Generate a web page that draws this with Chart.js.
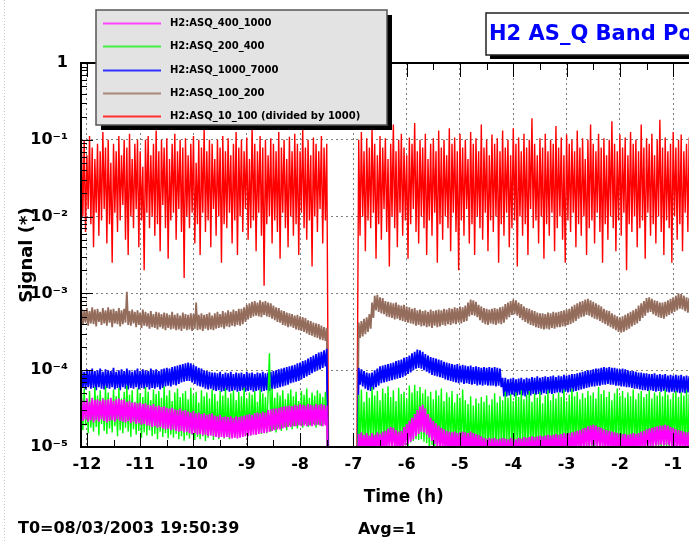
<!DOCTYPE html>
<html>
<head>
<meta charset="utf-8">
<title>H2 AS_Q Band Power</title>
<script src="https://cdn.jsdelivr.net/npm/chart.js@4.4.0/dist/chart.umd.min.js"></script>
<style>
  html, body { margin: 0; padding: 0; background: #fff; overflow: hidden; }
  #wrap { width: 689px; height: 541px; overflow: hidden; position: relative; }
  canvas { display: block; }
</style>
</head>
<body>
<div id="wrap"><canvas id="bandPower" width="740" height="541"></canvas></div>
<script>
// Time grid (hours before T0): two lock stretches with a dropout between them
const stepH = 0.025;
const startA = -12.1;   // first stretch starts here
const dropA = -7.45;    // lock lost
const dropB = -6.95;    // lock regained
const startB = -6.9;    // second stretch starts here
const floorVal = 1e-7;  // signal while unlocked (below the axis)

const xTicks = [-12, -11, -10, -9, -8, -7, -6, -5, -4, -3, -2, -1];
const xTickLabels = ["-12", "-11", "-10", "-9", "-8", "-7", "-6", "-5", "-4", "-3", "-2", "-1"];
const yTicks = [1e-5, 1e-4, 1e-3, 1e-2, 1e-1, 1];
const yTickLabels = ["10\u207B\u2075", "10\u207B\u2074", "10\u207B\u00B3", "10\u207B\u00B2", "10\u207B\u00B9", "1"];

const seriesLabels = [
  "H2:ASQ_400_1000",
  "H2:ASQ_200_400",
  "H2:ASQ_1000_7000",
  "H2:ASQ_100_200",
  "H2:ASQ_10_100 (divided by 1000)",
];

// log10 of the band signal, one value per stepH

const asq400A = [
  -4.38,-4.66,-4.4,-4.64,-4.37,-4.67,-4.41,-4.65,-4.36,-4.68,
  -4.39,-4.65,-4.38,-4.67,-4.4,-4.64,-4.37,-4.66,-4.39,-4.68,
  -4.38,-4.66,-4.36,-4.65,-4.4,-4.67,-4.38,-4.64,-4.37,-4.66,
  -4.39,-4.67,-4.38,-4.68,-4.41,-4.66,-4.4,-4.69,-4.42,-4.67,
  -4.42,-4.7,-4.43,-4.69,-4.42,-4.71,-4.44,-4.7,-4.43,-4.72,
  -4.45,-4.72,-4.46,-4.74,-4.44,-4.73,-4.47,-4.75,-4.46,-4.74,
  -4.48,-4.76,-4.47,-4.77,-4.49,-4.76,-4.5,-4.78,-4.49,-4.77,
  -4.51,-4.79,-4.52,-4.8,-4.5,-4.79,-4.53,-4.81,-4.52,-4.8,
  -4.54,-4.82,-4.55,-4.83,-4.53,-4.82,-4.56,-4.84,-4.55,-4.83,
  -4.57,-4.85,-4.56,-4.84,-4.58,-4.86,-4.57,-4.85,-4.56,-4.86,
  -4.59,-4.87,-4.6,-4.88,-4.58,-4.87,-4.61,-4.88,-4.6,-4.87,
  -4.61,-4.88,-4.6,-4.89,-4.62,-4.88,-4.6,-4.89,-4.61,-4.88,
  -4.6,-4.87,-4.59,-4.86,-4.58,-4.86,-4.57,-4.85,-4.58,-4.84,
  -4.56,-4.84,-4.55,-4.83,-4.56,-4.82,-4.54,-4.82,-4.55,-4.81,
  -4.52,-4.8,-4.51,-4.79,-4.5,-4.78,-4.5,-4.77,-4.49,-4.77,
  -4.48,-4.76,-4.47,-4.75,-4.47,-4.74,-4.46,-4.74,-4.47,-4.73,
  -4.45,-4.73,-4.46,-4.72,-4.44,-4.73,-4.45,-4.72,-4.46,-4.73,
  -4.44,-4.72,-4.45,-4.73,-4.46,-4.72,-4.44,-4.71,-4.45,-4.72,
  -4.44,-4.73,-4.45,-4.72,-4.46,
];
const asq400B = [
  -4.83,-5.04,-4.81,-5.06,-4.84,-5.03,-4.82,-5.05,-4.85,-5.04,
  -4.82,-5.06,-4.84,-5.03,-4.81,-5.05,-4.83,-5.04,-4.8,-5.06,
  -4.79,-5.02,-4.76,-5.0,-4.74,-4.99,-4.75,-5.01,-4.78,-5.03,
  -4.8,-5.04,-4.79,-5.02,-4.74,-4.98,-4.7,-4.96,-4.66,-4.93,
  -4.62,-4.9,-4.57,-4.86,-4.52,-4.83,-4.47,-4.8,-4.45,-4.81,
  -4.5,-4.84,-4.57,-4.88,-4.62,-4.92,-4.66,-4.96,-4.69,-4.99,
  -4.72,-5.01,-4.75,-5.03,-4.77,-5.04,-4.79,-5.05,-4.8,-5.06,
  -4.81,-5.05,-4.8,-5.06,-4.82,-5.04,-4.81,-5.06,-4.8,-5.05,
  -4.81,-5.06,-4.82,-5.05,-4.8,-5.07,-4.82,-5.06,-4.83,-5.08,
  -4.84,-5.07,-4.86,-5.09,-4.88,-5.1,-4.89,-5.1,-4.88,-5.11,
  -4.89,-5.1,-4.88,-5.11,-4.9,-5.1,-4.89,-5.12,-4.88,-5.1,
  -4.89,-5.11,-4.9,-5.1,-4.88,-5.12,-4.89,-5.1,-4.9,-5.11,
  -4.88,-5.1,-4.89,-5.11,-4.87,-5.1,-4.88,-5.09,-4.87,-5.1,
  -4.86,-5.09,-4.87,-5.1,-4.86,-5.08,-4.85,-5.09,-4.86,-5.08,
  -4.85,-5.08,-4.84,-5.07,-4.85,-5.08,-4.84,-5.06,-4.83,-5.07,
  -4.84,-5.06,-4.83,-5.07,-4.82,-5.06,-4.83,-5.05,-4.82,-5.06,
  -4.81,-5.05,-4.8,-5.04,-4.79,-5.03,-4.78,-5.03,-4.76,-5.01,
  -4.75,-5.0,-4.73,-4.99,-4.72,-4.98,-4.71,-4.98,-4.72,-4.99,
  -4.74,-5.0,-4.75,-5.01,-4.77,-5.02,-4.78,-5.03,-4.79,-5.04,
  -4.8,-5.04,-4.81,-5.05,-4.82,-5.05,-4.83,-5.06,-4.83,-5.05,
  -4.83,-5.06,-4.84,-5.05,-4.83,-5.06,-4.82,-5.05,-4.83,-5.04,
  -4.82,-5.04,-4.8,-5.03,-4.79,-5.02,-4.77,-5.01,-4.76,-5.0,
  -4.75,-4.99,-4.74,-4.98,-4.73,-4.98,-4.72,-4.97,-4.72,-4.98,
  -4.71,-4.97,-4.72,-4.98,-4.74,-4.99,-4.75,-5.0,-4.77,-5.01,
  -4.78,-5.02,-4.79,-5.03,-4.8,-5.03,-4.81,-5.04,-4.8,
];

const asq200A = [
  -4.3,-4.78,-4.24,-4.72,-4.38,-4.82,-4.27,-4.75,-4.42,-4.8,
  -4.22,-4.74,-4.33,-4.85,-4.26,-4.7,-4.36,-4.79,-4.21,-4.83,
  -4.29,-4.76,-4.4,-4.81,-4.25,-4.73,-4.34,-4.86,-4.23,-4.78,
  -4.37,-4.82,-4.28,-4.75,-4.2,-4.8,-4.32,-4.87,-4.26,-4.77,
  -4.41,-4.84,-4.24,-4.79,-4.3,-4.88,-4.35,-4.81,-4.22,-4.85,
  -4.28,-4.78,-4.39,-4.86,-4.25,-4.83,-4.31,-4.9,-4.27,-4.8,
  -4.36,-4.87,-4.21,-4.82,-4.33,-4.89,-4.26,-4.84,-4.4,-4.88,
  -4.29,-4.83,-4.24,-4.9,-4.35,-4.86,-4.3,-4.92,-4.27,-4.85,
  -4.38,-4.89,-4.23,-4.84,-4.32,-4.91,-4.28,-4.87,-4.42,-4.9,
  -4.26,-4.86,-4.34,-4.92,-4.29,-4.88,-4.37,-4.85,-4.25,-4.91,
  -4.31,-4.87,-4.4,-4.9,-4.27,-4.84,-4.33,-4.89,-4.24,-4.86,
  -4.36,-4.9,-4.3,-4.85,-4.26,-4.88,-4.39,-4.83,-4.28,-4.87,
  -4.34,-4.82,-4.23,-4.86,-4.37,-4.81,-4.29,-4.85,-4.32,-4.8,
  -4.27,-4.84,-4.41,-4.79,-4.25,-4.83,-4.3,-4.78,-4.35,-4.82,
  -4.28,-3.78,-4.8,-4.24,-4.77,-4.36,-4.81,-4.29,-4.75,-4.33,
  -4.79,-4.26,-4.74,-4.38,-4.78,-4.3,-4.72,-4.25,-4.77,-4.34,
  -4.73,-4.28,-4.76,-4.4,-4.71,-4.27,-4.75,-4.32,-4.7,-4.24,
  -4.74,-4.36,-4.72,-4.29,-4.7,-4.33,-4.75,-4.26,-4.71,-4.3,
  -4.73,-4.35,-4.7,-4.28,-4.72,
];
const asq200B = [
  -4.32,-5.04,-4.25,-4.96,-4.41,-5.07,-4.28,-4.98,-4.36,-5.05,
  -4.22,-4.97,-4.33,-5.06,-4.27,-4.99,-4.39,-5.04,-4.24,-4.95,
  -4.3,-5.08,-4.21,-4.97,-4.35,-5.03,-4.26,-4.99,-4.4,-5.06,
  -4.23,-4.96,-4.31,-5.05,-4.28,-4.98,-4.37,-5.07,-4.2,-4.94,
  -4.29,-4.92,-4.19,-4.9,-4.27,-4.91,-4.22,-4.9,-4.3,-4.93,
  -4.25,-4.95,-4.34,-5.04,-4.28,-4.97,-4.38,-5.06,-4.26,-4.98,
  -4.33,-5.05,-4.24,-4.96,-4.4,-5.08,-4.29,-4.99,-4.35,-5.04,
  -4.27,-4.97,-4.42,-5.07,-4.31,-5.0,-4.36,-5.06,-4.25,-4.98,
  -4.39,-5.09,-4.44,-5.05,-4.34,-5.1,-4.46,-5.03,-4.37,-5.08,
  -4.43,-5.04,-4.35,-5.1,-4.41,-5.02,-4.33,-5.07,-4.45,-5.05,
  -4.38,-5.09,-4.3,-5.01,-4.42,-5.06,-4.34,-5.0,-4.39,-5.08,
  -4.28,-5.03,-4.36,-5.07,-4.31,-4.99,-4.4,-5.05,-4.29,-5.02,
  -4.35,-5.08,-4.26,-5.0,-4.38,-5.06,-4.32,-5.01,-4.27,-5.07,
  -4.41,-5.03,-4.3,-5.09,-4.36,-5.0,-4.28,-5.05,-4.43,-5.02,
  -4.33,-5.07,-4.26,-5.01,-4.39,-5.08,-4.31,-5.0,-4.37,-5.06,
  -4.29,-5.02,-4.35,-5.07,-4.25,-4.99,-4.4,-5.05,-4.32,-5.03,
  -4.24,-5.06,-4.34,-5.0,-4.28,-5.04,-4.38,-5.01,-4.3,-5.08,
  -4.36,-5.02,-4.27,-5.06,-4.33,-4.99,-4.29,-5.05,-4.37,-5.01,
  -4.22,-5.07,-4.31,-5.0,-4.26,-5.04,-4.35,-5.02,-4.28,-5.06,
  -4.39,-5.01,-4.3,-5.05,-4.24,-4.99,-4.33,-5.07,-4.27,-5.02,
  -4.36,-5.04,-4.29,-5.0,-4.34,-5.06,-4.25,-5.01,-4.38,-5.05,
  -4.3,-5.03,-4.27,-5.07,-4.35,-5.0,-4.31,-5.04,-4.26,-5.06,
  -4.37,-5.01,-4.29,-5.05,-4.33,-5.02,-4.28,-5.07,-4.34,-5.0,
  -4.25,-5.04,-4.32,-5.06,-4.38,-5.01,-4.3,-5.05,-4.27,-5.03,
  -4.35,-5.06,-4.29,-5.0,-4.33,-5.04,-4.26,-5.07,-4.31,
];

const asq1000A = [
  -4.0,-4.23,-4.02,-4.25,-3.99,-4.22,-4.01,-4.24,-3.98,-4.23,
  -4.01,-4.26,-4.0,-4.22,-3.98,-4.24,-4.02,-4.25,-3.99,-4.23,
  -4.0,-4.24,-4.01,-4.22,-3.97,-4.25,-4.02,-4.23,-4.0,-4.26,
  -3.99,-4.22,-4.01,-4.24,-3.98,-4.25,-4.0,-4.23,-4.02,-4.24,
  -4.0,-4.22,-3.98,-4.25,-4.01,-4.23,-3.99,-4.24,-4.0,-4.22,
  -4.01,-4.25,-3.98,-4.23,-4.0,-4.24,-3.99,-4.22,-4.01,-4.25,
  -3.99,-4.23,-3.98,-4.21,-3.97,-4.2,-3.98,-4.21,-3.96,-4.19,
  -3.95,-4.2,-3.94,-4.18,-3.93,-4.16,-3.92,-4.15,-3.91,-4.14,
  -3.9,-4.14,-3.91,-4.16,-3.93,-4.18,-3.95,-4.2,-3.97,-4.21,
  -3.98,-4.22,-4.0,-4.24,-4.01,-4.25,-4.02,-4.24,-4.03,-4.26,
  -4.03,-4.27,-4.04,-4.26,-4.02,-4.28,-4.05,-4.27,-4.03,-4.26,
  -4.04,-4.28,-4.02,-4.27,-4.05,-4.26,-4.03,-4.28,-4.04,-4.27,
  -4.03,-4.26,-4.05,-4.28,-4.02,-4.27,-4.04,-4.26,-4.03,-4.28,
  -4.05,-4.27,-4.03,-4.26,-4.04,-4.28,-4.02,-4.27,-4.04,-4.26,
  -4.03,-4.27,-4.02,-4.25,-4.01,-4.24,-4.0,-4.23,-3.99,-4.22,
  -3.98,-4.21,-3.97,-4.2,-3.96,-4.19,-3.95,-4.17,-3.94,-4.16,
  -3.93,-4.15,-3.91,-4.14,-3.9,-4.12,-3.88,-4.1,-3.87,-4.08,
  -3.85,-4.06,-3.83,-4.04,-3.81,-4.02,-3.79,-4.0,-3.77,-3.99,
  -3.76,-3.97,-3.74,-3.95,-3.72,
];
const asq1000B = [
  -3.97,-4.19,-3.99,-4.21,-4.01,-4.24,-4.03,-4.26,-4.04,-4.27,
  -4.03,-4.25,-4.0,-4.22,-3.98,-4.2,-3.95,-4.17,-3.94,-4.16,
  -3.93,-4.15,-3.92,-4.14,-3.91,-4.13,-3.9,-4.12,-3.88,-4.11,
  -3.87,-4.1,-3.86,-4.09,-3.84,-4.07,-3.83,-4.05,-3.81,-4.03,
  -3.78,-4.0,-3.76,-3.98,-3.73,-3.97,-3.74,-3.98,-3.76,-4.0,
  -3.79,-4.02,-3.81,-4.04,-3.83,-4.06,-3.84,-4.07,-3.85,-4.08,
  -3.86,-4.09,-3.87,-4.1,-3.89,-4.12,-3.9,-4.13,-3.91,-4.14,
  -3.92,-4.15,-3.93,-4.16,-3.92,-4.17,-3.94,-4.16,-3.93,-4.18,
  -3.94,-4.17,-3.95,-4.18,-3.94,-4.19,-3.96,-4.18,-3.95,-4.2,
  -3.96,-4.19,-3.97,-4.2,-3.96,-4.19,-3.97,-4.2,-3.96,-4.2,
  -3.97,-4.2,-3.96,-4.21,-3.97,-4.2,-3.98,-4.22,-4.1,-4.34,
  -4.1,-4.34,-4.12,-4.33,-4.11,-4.32,-4.1,-4.34,-4.12,-4.33,
  -4.11,-4.32,-4.1,-4.33,-4.12,-4.34,-4.1,-4.32,-4.11,-4.33,
  -4.09,-4.31,-4.1,-4.32,-4.08,-4.31,-4.1,-4.32,-4.09,-4.3,
  -4.08,-4.31,-4.09,-4.3,-4.08,-4.31,-4.07,-4.3,-4.09,-4.29,
  -4.07,-4.29,-4.08,-4.3,-4.06,-4.28,-4.07,-4.29,-4.06,-4.28,
  -4.05,-4.28,-4.05,-4.27,-4.04,-4.26,-4.03,-4.25,-4.02,-4.24,
  -4.01,-4.23,-4.0,-4.22,-4.0,-4.21,-3.99,-4.21,-3.98,-4.2,
  -3.98,-4.2,-3.97,-4.19,-3.96,-4.19,-3.97,-4.18,-3.96,-4.19,
  -3.97,-4.19,-3.97,-4.2,-3.98,-4.2,-3.99,-4.21,-3.98,-4.21,
  -3.99,-4.22,-4.0,-4.22,-4.01,-4.23,-4.01,-4.24,-4.02,-4.24,
  -4.03,-4.25,-4.03,-4.26,-4.04,-4.26,-4.04,-4.27,-4.05,-4.26,
  -4.05,-4.27,-4.04,-4.28,-4.06,-4.27,-4.05,-4.28,-4.06,-4.27,
  -4.05,-4.28,-4.07,-4.29,-4.06,-4.28,-4.07,-4.29,-4.06,-4.29,
  -4.07,-4.3,-4.06,-4.29,-4.08,-4.3,-4.07,-4.29,-4.08,
];

const asq100A = [
  -3.2,-3.41,-3.22,-3.38,-3.19,-3.42,-3.23,-3.39,-3.18,-3.4,
  -3.21,-3.43,-3.2,-3.37,-3.24,-3.41,-3.19,-3.39,-3.22,-3.42,
  -3.18,-3.38,-3.21,-3.44,-3.2,-3.39,-3.23,-3.4,-3.19,-3.43,
  -3.22,-3.4,-3.2,-3.38,-2.98,-3.41,-3.23,-3.42,-3.21,-3.39,
  -3.24,-3.44,-3.22,-3.41,-3.25,-3.45,-3.21,-3.42,-3.24,-3.43,
  -3.26,-3.46,-3.23,-3.44,-3.27,-3.45,-3.24,-3.47,-3.25,-3.44,
  -3.27,-3.46,-3.25,-3.48,-3.26,-3.45,-3.28,-3.47,-3.24,-3.46,
  -3.28,-3.48,-3.26,-3.47,-3.29,-3.49,-3.25,-3.46,-3.27,-3.48,
  -3.28,-3.47,-3.26,-3.49,-3.27,-3.46,-3.12,-3.48,-3.28,-3.47,
  -3.26,-3.49,-3.28,-3.46,-3.27,-3.48,-3.25,-3.47,-3.29,-3.48,
  -3.26,-3.46,-3.24,-3.45,-3.27,-3.44,-3.23,-3.46,-3.25,-3.43,
  -3.22,-3.44,-3.24,-3.42,-3.21,-3.43,-3.23,-3.41,-3.2,-3.42,
  -3.2,-3.4,-3.18,-3.37,-3.15,-3.34,-3.13,-3.32,-3.11,-3.3,
  -3.1,-3.29,-3.12,-3.3,-3.09,-3.31,-3.11,-3.28,-3.1,-3.3,
  -3.12,-3.31,-3.13,-3.33,-3.16,-3.35,-3.18,-3.37,-3.19,-3.38,
  -3.22,-3.41,-3.23,-3.42,-3.25,-3.44,-3.26,-3.43,-3.27,-3.45,
  -3.29,-3.47,-3.28,-3.48,-3.3,-3.49,-3.31,-3.5,-3.32,-3.52,
  -3.35,-3.54,-3.36,-3.55,-3.38,-3.57,-3.39,-3.58,-3.4,-3.6,
  -3.42,-3.61,-3.44,-3.62,-3.45,
];
const asq100B = [
  -3.38,-3.58,-3.36,-3.56,-3.33,-3.53,-3.31,-3.5,-3.27,-3.46,
  -3.12,-3.32,-3.03,-3.22,-3.02,-3.24,-3.05,-3.26,-3.06,-3.27,
  -3.1,-3.3,-3.11,-3.31,-3.12,-3.32,-3.13,-3.34,-3.12,-3.33,
  -3.15,-3.35,-3.16,-3.36,-3.15,-3.37,-3.17,-3.38,-3.18,-3.39,
  -3.2,-3.4,-3.19,-3.42,-3.22,-3.41,-3.21,-3.43,-3.23,-3.42,
  -3.22,-3.44,-3.24,-3.43,-3.21,-3.45,-3.23,-3.42,-3.22,-3.44,
  -3.21,-3.43,-3.22,-3.41,-3.2,-3.42,-3.21,-3.4,-3.19,-3.41,
  -3.2,-3.39,-3.18,-3.4,-3.19,-3.38,-3.17,-3.39,-3.18,-3.37,
  -3.16,-3.36,-3.12,-3.3,-3.08,-3.28,-3.09,-3.29,-3.11,-3.31,
  -3.15,-3.35,-3.17,-3.38,-3.19,-3.4,-3.2,-3.41,-3.21,-3.39,
  -3.2,-3.4,-3.19,-3.41,-3.2,-3.39,-3.18,-3.4,-3.17,-3.38,
  -3.14,-3.34,-3.12,-3.31,-3.1,-3.28,-3.08,-3.27,-3.09,-3.29,
  -3.12,-3.32,-3.14,-3.35,-3.17,-3.37,-3.19,-3.39,-3.2,-3.41,
  -3.22,-3.42,-3.23,-3.44,-3.25,-3.45,-3.26,-3.46,-3.26,-3.47,
  -3.27,-3.46,-3.25,-3.47,-3.26,-3.45,-3.24,-3.46,-3.25,-3.44,
  -3.24,-3.44,-3.23,-3.43,-3.22,-3.43,-3.21,-3.41,-3.2,-3.4,
  -3.17,-3.38,-3.15,-3.36,-3.13,-3.33,-3.11,-3.31,-3.1,-3.3,
  -3.08,-3.28,-3.07,-3.29,-3.09,-3.31,-3.11,-3.33,-3.13,-3.34,
  -3.15,-3.36,-3.17,-3.38,-3.2,-3.4,-3.22,-3.42,-3.23,-3.44,
  -3.26,-3.46,-3.28,-3.48,-3.3,-3.5,-3.31,-3.51,-3.3,-3.5,
  -3.28,-3.48,-3.26,-3.46,-3.24,-3.43,-3.22,-3.41,-3.2,-3.39,
  -3.16,-3.36,-3.13,-3.32,-3.1,-3.29,-3.06,-3.25,-3.05,-3.24,
  -3.07,-3.27,-3.09,-3.29,-3.1,-3.31,-3.12,-3.32,-3.12,-3.33,
  -3.11,-3.3,-3.09,-3.28,-3.07,-3.26,-3.05,-3.24,-3.03,-3.22,
  -3.0,-3.2,-3.01,-3.21,-3.03,-3.23,-3.05,-3.25,-3.06,
];

const asq10A = [
  -1.1,-2.0,-1.0,-2.2,-1.2,-1.9,-0.95,-2.1,-1.1,-2.4,
  -1.25,-1.95,-1.05,-2.25,-1.15,-2.05,-0.9,-1.9,-1.1,-2.35,
  -1.0,-2.1,-1.3,-2.6,-1.05,-1.95,-1.15,-2.2,-0.95,-2.05,
  -1.2,-1.85,-1.0,-2.3,-1.1,-2.5,-0.92,-2.0,-1.25,-2.15,
  -1.05,-1.9,-1.0,-2.4,-1.15,-2.05,-1.35,-2.7,-1.0,-1.95,
  -0.95,-2.15,-1.2,-2.0,-1.05,-2.25,-0.88,-2.1,-1.15,-2.45,
  -1.0,-1.85,-1.1,-2.15,-0.98,-2.55,-1.25,-2.05,-1.05,-1.95,
  -0.92,-2.3,-1.15,-1.9,-1.0,-2.2,-1.1,-2.8,-0.98,-2.0,
  -1.2,-2.15,-1.05,-1.95,-0.95,-2.35,-1.3,-2.1,-1.0,-2.5,
  -1.1,-1.95,-0.85,-2.2,-1.15,-2.05,-1.0,-2.4,-1.05,-1.9,
  -1.25,-2.25,-1.0,-2.0,-1.1,-2.6,-0.95,-2.1,-1.15,-2.15,
  -0.98,-1.95,-1.2,-2.35,-1.05,-2.05,-0.9,-2.5,-1.1,-2.0,
  -1.0,-2.2,-1.15,-1.9,-0.97,-2.3,-1.25,-2.15,-0.82,-2.05,
  -1.05,-2.45,-1.15,-1.95,-0.95,-2.25,-1.1,-2.9,-1.0,-2.1,
  -1.2,-2.0,-0.98,-2.35,-1.05,-2.05,-1.15,-2.2,-0.9,-2.55,
  -1.1,-1.95,-1.0,-2.15,-1.25,-2.4,-0.96,-2.0,-1.15,-2.25,
  -0.92,-2.1,-1.05,-2.5,-1.15,-1.95,-0.86,-2.15,-1.1,-2.3,
  -1.0,-2.05,-1.2,-2.65,-0.97,-2.0,-1.05,-2.2,-1.15,-1.9,
  -0.95,-2.35,-1.1,-2.05,-1.05,
];
const asq10B = [
  -1.0,-2.25,-0.9,-2.0,-1.15,-2.45,-0.98,-2.05,-1.1,-2.15,
  -0.85,-1.95,-1.05,-2.55,-1.2,-2.1,-0.95,-2.3,-1.1,-1.9,
  -0.98,-2.2,-1.25,-2.65,-1.05,-2.0,-0.8,-2.15,-1.15,-2.4,
  -1.0,-1.95,-0.92,-2.25,-1.1,-2.05,-1.2,-2.55,-0.97,-2.1,
  -1.05,-1.9,-0.78,-2.2,-1.15,-2.35,-1.0,-2.0,-1.1,-2.15,
  -0.92,-2.5,-1.25,-2.05,-1.05,-2.25,-0.98,-1.95,-1.15,-2.6,
  -0.88,-2.1,-1.1,-2.3,-1.0,-2.0,-1.2,-2.15,-0.85,-2.45,
  -1.05,-1.95,-0.97,-2.2,-1.15,-2.7,-0.92,-2.05,-1.1,-2.25,
  -1.0,-1.9,-1.25,-2.35,-0.9,-2.1,-1.05,-2.5,-0.98,-2.0,
  -1.15,-2.15,-0.8,-2.3,-1.1,-1.95,-1.0,-2.45,-1.2,-2.05,
  -0.93,-2.2,-1.05,-2.0,-0.98,-2.6,-1.15,-2.1,-0.88,-2.25,
  -1.1,-1.95,-1.0,-2.4,-1.2,-2.15,-0.85,-2.05,-1.05,-2.65,
  -0.97,-2.0,-1.15,-2.25,-0.92,-2.1,-1.1,-2.5,-1.0,-1.9,
  -0.72,-2.15,-1.05,-2.05,-1.2,-2.35,-0.98,-2.0,-1.1,-2.55,
  -0.92,-2.1,-1.15,-2.25,-1.0,-1.95,-1.05,-2.45,-0.82,-2.15,
  -1.1,-2.0,-0.97,-2.3,-1.2,-2.6,-0.93,-2.05,-1.05,-2.2,
  -1.0,-1.95,-1.15,-2.4,-0.88,-2.1,-1.1,-2.25,-0.98,-2.0,
  -1.25,-2.5,-1.0,-2.15,-0.8,-2.05,-1.05,-2.35,-1.15,-1.95,
  -0.92,-2.2,-1.1,-2.6,-0.98,-2.1,-1.2,-2.3,-1.0,-2.0,
  -0.76,-2.15,-1.05,-2.45,-1.15,-2.05,-0.93,-2.25,-1.1,-1.95,
  -0.97,-2.7,-1.2,-2.1,-0.9,-2.2,-1.05,-2.0,-1.0,-2.4,
  -1.15,-2.15,-0.8,-2.05,-1.1,-2.55,-0.98,-1.95,-1.05,-2.25,
  -0.92,-2.1,-1.2,-2.35,-1.0,-2.0,-0.74,-2.2,-1.1,-2.5,
  -0.97,-2.05,-1.15,-2.15,-1.05,-2.6,-0.9,-2.0,-1.1,-2.3,
  -1.0,-2.1,-0.93,-2.45,-1.15,-1.95,-1.05,-2.2,-0.97,
];

const seriesA = [asq400A, asq200A, asq1000A, asq100A, asq10A];
const seriesB = [asq400B, asq200B, asq1000B, asq100B, asq10B];

const lineColors = ["#ff00ff", "#00ff00", "#0000ff", "#946c5c", "#ff0000"];
const keyColors = ["#ff44ff", "#44f044", "#3030ff", "#a88878", "#ff3030"];
const lineWidths = [1.8, 1.4, 1.8, 1.8, 1.4];

const FONT = "'DejaVu Sans', 'Liberation Sans', Arial, sans-serif";

function toPoints(segA, segB) {
  const pts = [];
  segA.forEach((e, i) => pts.push({ x: startA + i * stepH, y: Math.pow(10, e) }));
  pts.push({ x: dropA, y: floorVal });
  pts.push({ x: (dropA + dropB) / 2, y: null });
  pts.push({ x: dropB, y: floorVal });
  segB.forEach((e, i) => pts.push({ x: startB + i * stepH, y: Math.pow(10, e) }));
  return pts;
}

const datasets = seriesLabels.map((label, i) => ({
  label: label,
  data: toPoints(seriesA[i], seriesB[i]),
  borderColor: lineColors[i],
  borderWidth: lineWidths[i],
  borderJoinStyle: "bevel",
  pointRadius: 0,
  tension: 0,
  spanGaps: false,
}));

// frame, inward tick marks and the boxed legend / title
const decorPlugin = {
  id: "decor",
  afterDatasetsDraw(chart) {
    const { ctx, chartArea: a, scales } = chart;
    const xs = scales.x;
    const ys = scales.y;
    ctx.save();
    ctx.strokeStyle = "#000";
    ctx.lineWidth = 1;
    ctx.beginPath();
    xTicks.forEach((t) => {
      [[t, 14], [t + 0.5, 7]].forEach(([v, len]) => {
        const px = Math.round(xs.getPixelForValue(v)) + 0.5;
        if (px < a.left || px > a.right) return;
        ctx.moveTo(px, a.bottom);
        ctx.lineTo(px, a.bottom - len);
        ctx.moveTo(px, a.top);
        ctx.lineTo(px, a.top + len);
      });
    });
    yTicks.forEach((d, k) => {
      const py = Math.round(ys.getPixelForValue(d)) + 0.5;
      ctx.moveTo(a.left, py);
      ctx.lineTo(a.left + 12, py);
      ctx.moveTo(a.right, py);
      ctx.lineTo(a.right - 12, py);
      if (k === yTicks.length - 1) return;
      for (let m = 2; m <= 9; m++) {
        const pm = Math.round(ys.getPixelForValue(d * m)) + 0.5;
        ctx.moveTo(a.left, pm);
        ctx.lineTo(a.left + 6, pm);
        ctx.moveTo(a.right, pm);
        ctx.lineTo(a.right - 6, pm);
      }
    });
    ctx.stroke();
    ctx.lineWidth = 2;
    ctx.strokeRect(a.left, a.top, a.right - a.left, a.bottom - a.top);
    ctx.restore();
  },
  afterDraw(chart) {
    const ctx = chart.ctx;
    ctx.save();

    // window edge
    ctx.strokeStyle = "#c8c8c8";
    ctx.lineWidth = 1;
    ctx.setLineDash([1, 2]);
    ctx.beginPath();
    ctx.moveTo(4.5, 0);
    ctx.lineTo(4.5, 541);
    ctx.stroke();
    ctx.setLineDash([]);

    // legend box with drop shadow
    const lx = 96, ly = 10, lw = 291, lh = 115;
    ctx.fillStyle = "#000";
    ctx.fillRect(lx + 5, ly + 5, lw, lh);
    ctx.fillStyle = "#e3e3e3";
    ctx.fillRect(lx, ly, lw, lh);
    ctx.strokeStyle = "#555";
    ctx.lineWidth = 1.5;
    ctx.strokeRect(lx, ly, lw, lh);

    ctx.font = "bold 10px " + FONT;
    ctx.textBaseline = "middle";
    ctx.textAlign = "left";
    chart.data.datasets.forEach((ds, i) => {
      const ry = Math.round(ly + 13 + i * 23.3) + 0.5;
      ctx.strokeStyle = keyColors[i];
      ctx.lineWidth = 2;
      ctx.beginPath();
      ctx.moveTo(lx + 7, ry);
      ctx.lineTo(lx + 65, ry);
      ctx.stroke();
      ctx.fillStyle = "#000";
      ctx.fillText(ds.label, lx + 74, ry);
    });

    // title box
    const tx = 486, ty = 13, tw = 280, th = 42;
    ctx.fillStyle = "#000";
    ctx.fillRect(tx + 4, ty + 4, tw, th);
    ctx.fillStyle = "#fff";
    ctx.fillRect(tx, ty, tw, th);
    ctx.strokeStyle = "#222";
    ctx.lineWidth = 1.5;
    ctx.strokeRect(tx, ty, tw, th);
    ctx.fillStyle = "#0000ff";
    ctx.font = "bold 21px " + FONT;
    ctx.fillText("H2 AS_Q Band Power", tx + 3, ty + 22);

    // footer
    ctx.fillStyle = "#000";
    ctx.font = "bold 16px " + FONT;
    ctx.fillText("T0=08/03/2003 19:50:39", 18, 529);
    ctx.fillText("Avg=1", 358, 530);
    ctx.restore();
  },
};

const tickFont = { family: FONT, size: 16, weight: "bold" };

new Chart(document.getElementById("bandPower").getContext("2d"), {
  type: "line",
  data: { datasets: datasets },
  options: {
    responsive: false,
    animation: false,
    normalized: true,
    layout: { padding: { top: 63, right: 13.5, bottom: 0, left: 0 } },
    plugins: {
      legend: { display: false },
      title: { display: false },
      tooltip: { enabled: false },
    },
    scales: {
      x: {
        type: "linear",
        min: -12.11,
        max: 0,
        afterBuildTicks: (s) => {
          s.ticks = xTicks.map((v) => ({ value: v }));
        },
        afterFit: (s) => {
          s.height = 94;
        },
        ticks: {
          callback: (v, i) => xTickLabels[i],
          font: tickFont,
          color: "#000",
          padding: 8,
          maxRotation: 0,
          autoSkip: false,
        },
        grid: { color: "#808080", lineWidth: 1, drawTicks: false },
        border: { display: false, dash: [2, 3] },
        title: {
          display: true,
          text: "Time (h)",
          font: { family: FONT, size: 17, weight: "bold" },
          color: "#000",
          padding: { top: 0, bottom: 33 },
        },
      },
      y: {
        type: "logarithmic",
        min: 1e-5,
        max: 1,
        afterBuildTicks: (s) => {
          s.ticks = yTicks.map((v) => ({ value: v }));
        },
        afterFit: (s) => {
          s.width = 81;
        },
        ticks: {
          callback: (v, i) => yTickLabels[i],
          font: tickFont,
          color: "#000",
          padding: 13,
          autoSkip: false,
        },
        grid: { color: "#808080", lineWidth: 1, drawTicks: false },
        border: { display: false, dash: [2, 3] },
        title: {
          display: true,
          text: "Signal (*)",
          font: { family: FONT, size: 18, weight: "bold" },
          color: "#000",
          padding: { top: 17, bottom: 0 },
        },
      },
    },
  },
  plugins: [decorPlugin],
});
</script>
</body>
</html>
